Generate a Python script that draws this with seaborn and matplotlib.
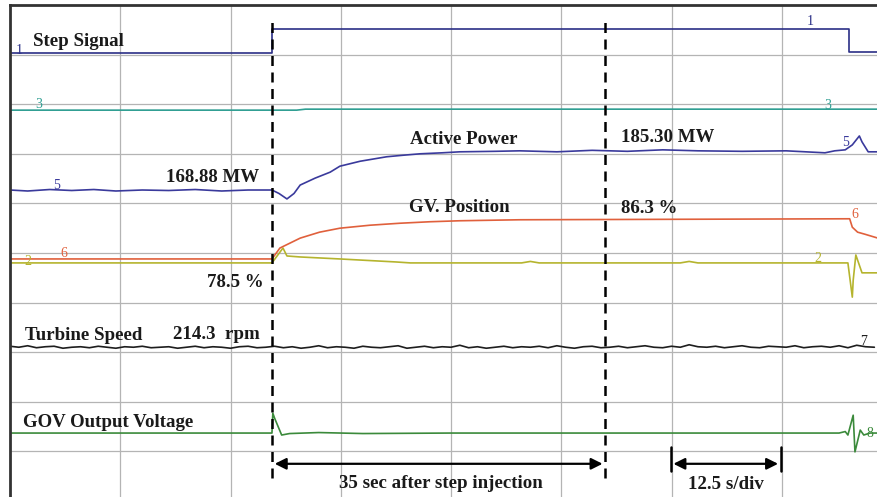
import numpy as np
import pandas as pd
import matplotlib
matplotlib.use("Agg")
import matplotlib.pyplot as plt
import seaborn as sns

# screen units: x in seconds (12.5 s/div), y in divisions from the bottom of the screen
step_t = [0, 29.7, 29.7, 95.1, 95.1, 98.4]
step_y = [9.03, 9.03, 9.52, 9.52, 9.05, 9.05]

ch3_t = [0, 32.5, 33.5, 98.4]
ch3_y = [7.88, 7.88, 7.90, 7.90]

power_t = [0, 2.0, 4.5, 7.0, 9.5, 12.0, 15.0, 18.0, 21.0, 24.0, 27.0, 29.7, 30.5, 31.4, 32.2,
           32.9, 34.6, 36.3, 37.4, 39.7, 42.7, 44.5, 46.5, 49.0, 51.0, 55.0, 57.8, 62.0,
           66.0, 70.0, 74.0, 78.0, 83.0, 88.0, 92.4, 93.5, 94.7, 95.5, 96.3, 96.6, 97.3, 98.4]
power_y = [6.27, 6.25, 6.28, 6.26, 6.28, 6.25, 6.27, 6.26, 6.28, 6.25, 6.27, 6.27, 6.20, 6.09, 6.20,
           6.37, 6.51, 6.63, 6.75, 6.85, 6.94, 6.97, 7.00, 7.02, 7.04, 7.05, 7.06, 7.04,
           7.07, 7.05, 7.08, 7.06, 7.05, 7.06, 7.02, 7.06, 7.08, 7.18, 7.36, 7.24, 7.04, 7.04]

gv_t = [0, 29.7, 30.6, 32.9, 35.1, 37.4, 40.8, 44.2, 47.6, 51.0, 57.8, 95.2, 95.5, 96.1, 96.9, 98.4]
gv_y = [4.88, 4.88, 5.10, 5.30, 5.42, 5.50, 5.56, 5.60, 5.63, 5.65, 5.67, 5.69, 5.52, 5.42, 5.38, 5.30]

ch2_t = [0, 29.7, 30.95, 31.4, 32.9, 37.4, 43.7, 45.4, 58.0, 59.0, 60.0, 76.0, 77.0, 78.0,
         95.0, 95.5, 95.6, 95.9, 96.6, 98.4]
ch2_y = [4.80, 4.80, 5.10, 4.94, 4.92, 4.88, 4.82, 4.80, 4.80, 4.83, 4.80, 4.80, 4.83, 4.80,
         4.80, 4.11, 4.45, 4.96, 4.60, 4.60]

speed_t = np.arange(0, 99, 1.0)
speed_y = [3.12, 3.10, 3.13, 3.09, 3.11, 3.12, 3.08, 3.10, 3.11, 3.09,
           3.12, 3.10, 3.08, 3.11, 3.10, 3.12, 3.09, 3.10, 3.11, 3.08,
           3.10, 3.12, 3.09, 3.11, 3.10, 3.08, 3.11, 3.12, 3.09, 3.10,
           3.12, 3.09, 3.11, 3.08, 3.10, 3.13, 3.09, 3.11, 3.10, 3.08,
           3.12, 3.10, 3.09, 3.11, 3.13, 3.08, 3.10, 3.12, 3.09, 3.11,
           3.10, 3.14, 3.09, 3.11, 3.08, 3.10, 3.12, 3.09, 3.11, 3.10,
           3.12, 3.09, 3.13, 3.10, 3.08, 3.11, 3.12, 3.09, 3.10, 3.12,
           3.09, 3.11, 3.13, 3.10, 3.09, 3.12, 3.10, 3.15, 3.11, 3.10,
           3.12, 3.09, 3.11, 3.13, 3.10, 3.09, 3.12, 3.11, 3.10, 3.13,
           3.09, 3.11, 3.12, 3.10, 3.13, 3.09, 3.14, 3.11, 3.10]

gov_t = [0, 29.7, 29.8, 30.0, 30.8, 31.7, 35.0, 40.0, 50.0, 60.0, 94.0, 94.7, 95.0, 95.6,
         95.8, 96.4, 96.8, 97.5, 98.4]
gov_y = [1.37, 1.37, 1.77, 1.67, 1.33, 1.36, 1.38, 1.36, 1.37, 1.37, 1.37, 1.40, 1.33, 1.73,
         0.99, 1.43, 1.33, 1.37, 1.37]

colors = {"1": "#2b2f86", "3": "#2e9e92", "5": "#3a3a9c", "6": "#e0603c",
          "2": "#b5b42e", "7": "#1e1e1e", "8": "#3b8a3b"}

frames = []
for name, t, y in [("1", step_t, step_y), ("3", ch3_t, ch3_y), ("5", power_t, power_y),
                   ("2", ch2_t, ch2_y), ("6", gv_t, gv_y), ("7", speed_t, speed_y),
                   ("8", gov_t, gov_y)]:
    frames.append(pd.DataFrame({"t": t, "y": y, "ch": name}))
df = pd.concat(frames, ignore_index=True)

sns.set_style("white")
plt.rcParams["font.family"] = ["Liberation Serif", "DejaVu Serif"]

fig = plt.figure(figsize=(8.78, 4.97), dpi=100)
ax = fig.add_axes([10 / 878, -4 / 497, 882 / 878, 496 / 497])

sns.lineplot(data=df, x="t", y="y", hue="ch", palette=colors, estimator=None,
             sort=False, legend=False, linewidth=1.2, ax=ax)

ax.set_xlim(0, 100)
ax.set_ylim(0, 10)
ax.set_xticks(np.arange(0, 100.1, 12.5))
ax.set_yticks(np.arange(0, 10.1, 1))
ax.grid(True, color="#b4b4b4", linewidth=0.9)
ax.set_axisbelow(True)
ax.tick_params(length=0, labelbottom=False, labelleft=False)
ax.set_xlabel("")
ax.set_ylabel("")
for side in ["left", "top"]:
    ax.spines[side].set_color("#333333")
    ax.spines[side].set_linewidth(2)

# step injection markers
for xv in [29.7, 67.5]:
    ax.plot([xv, xv], [0.46, 9.66], color="black", linestyle=(0, (4, 2.6)), linewidth=1.8)

bold = dict(fontweight="bold", fontsize=13.6, color="#1a1a1a")
ax.text(2.6, 9.27, "Step Signal", ha="left", va="center", **bold)
ax.text(51.4, 7.28, "Active Power", ha="center", va="center", **bold)
ax.text(69.3, 7.32, "185.30 MW", ha="left", va="center", **bold)
ax.text(28.2, 6.53, "168.88 MW", ha="right", va="center", **bold)
ax.text(50.9, 5.91, "GV. Position", ha="center", va="center", **bold)
ax.text(69.3, 5.89, "86.3 %", ha="left", va="center", **bold)
ax.text(28.7, 4.40, "78.5 %", ha="right", va="center", **bold)
ax.text(1.7, 3.33, "Turbine Speed", ha="left", va="center", **bold)
ax.text(18.5, 3.35, "214.3  rpm", ha="left", va="center", **bold)
ax.text(1.5, 1.59, "GOV Output Voltage", ha="left", va="center", **bold)

# channel numbers
for x, y, s in [(1.1, 9.08, "1"), (3.2, 7.99, "3"), (5.3, 6.37, "5"), (2.0, 4.82, "2"),
                (6.1, 4.98, "6"), (90.7, 9.66, "1"), (92.7, 7.98, "3"), (94.7, 7.22, "5"),
                (95.8, 5.77, "6"), (91.6, 4.88, "2"), (96.8, 3.22, "7"), (97.5, 1.37, "8")]:
    ax.text(x, y, s, ha="center", va="center", fontsize=10, color=colors[s])

# time annotations
arrow = dict(arrowstyle="<|-|>", color="black", linewidth=1.6, mutation_scale=17)
ax.annotate("", xy=(29.7, 0.75), xytext=(67.5, 0.75), arrowprops=arrow)
ax.annotate("", xy=(74.9, 0.75), xytext=(87.4, 0.75), arrowprops=arrow)
for xv in [74.9, 87.4]:
    ax.plot([xv, xv], [0.60, 1.09], color="black", linewidth=1.8)
ax.text(48.8, 0.36, "35 sec after step injection", ha="center", va="center", **bold)
ax.text(81.2, 0.33, "12.5 s/div", ha="center", va="center", **bold)

fig.savefig("out.png", dpi=100)
